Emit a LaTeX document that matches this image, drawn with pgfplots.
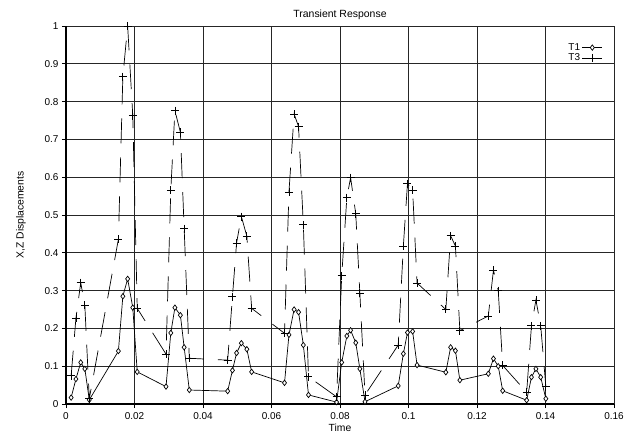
\documentclass[border=0pt]{standalone}
\usepackage{pgfplots}
\pgfplotsset{compat=1.18}
\usepackage{fontspec}
\setmainfont{Liberation Sans}
\pgfplotstableread{
t y
0.0015 0.017
0.0029 0.066
0.0043 0.110
0.0055 0.093
0.0068 0.011
0.0153 0.140
0.0166 0.285
0.0180 0.331
0.0195 0.255
0.0208 0.085
0.0292 0.046
0.0306 0.188
0.0318 0.255
0.0334 0.235
0.0345 0.150
0.0360 0.037
0.0472 0.034
0.0486 0.089
0.0498 0.135
0.0512 0.161
0.0528 0.145
0.0542 0.085
0.0638 0.056
0.0651 0.183
0.0666 0.250
0.0679 0.243
0.0693 0.156
0.0708 0.024
0.0790 0.005
0.0805 0.110
0.0820 0.180
0.0831 0.195
0.0846 0.162
0.0858 0.093
0.0873 0.006
0.0970 0.048
0.0985 0.133
0.0997 0.189
0.1012 0.192
0.1025 0.103
0.1109 0.084
0.1123 0.150
0.1137 0.141
0.1150 0.063
0.1233 0.080
0.1248 0.120
0.1262 0.100
0.1275 0.035
0.1345 0.010
0.1359 0.071
0.1372 0.093
0.1386 0.071
0.1401 0.014
}\Tone
\pgfplotstableread{
t y
0.0015 0.075
0.0029 0.227
0.0043 0.321
0.0055 0.261
0.0068 0.014
0.0153 0.436
0.0166 0.866
0.0180 1.0
0.0195 0.763
0.0208 0.253
0.0292 0.132
0.0306 0.566
0.0318 0.776
0.0334 0.719
0.0345 0.464
0.0360 0.121
0.0472 0.116
0.0486 0.284
0.0498 0.426
0.0512 0.496
0.0528 0.444
0.0542 0.253
0.0638 0.187
0.0651 0.561
0.0666 0.767
0.0679 0.734
0.0693 0.474
0.0708 0.072
0.0790 0.019
0.0805 0.339
0.0820 0.546
0.0831 0.599
0.0846 0.503
0.0858 0.293
0.0873 0.024
0.0970 0.156
0.0985 0.418
0.0997 0.583
0.1012 0.566
0.1025 0.320
0.1109 0.250
0.1123 0.445
0.1137 0.418
0.1150 0.194
0.1233 0.233
0.1248 0.354
0.1262 0.300
0.1275 0.102
0.1345 0.031
0.1359 0.207
0.1372 0.275
0.1386 0.207
0.1401 0.046
}\Tthree
\begin{document}
\begin{tikzpicture}
\path[use as bounding box] (-66bp,-32bp) rectangle (563bp,404bp);
\begin{axis}[
  at={(0,0)}, anchor=south west,
  scale only axis, width=548bp, height=378bp,
  xmin=0, xmax=0.16, ymin=0, ymax=1,
  xtick={0,0.02,0.04,0.06,0.08,0.1,0.12,0.14,0.16},
  xticklabels={0,0.02,0.04,0.06,0.08,0.1,0.12,0.14,0.16},
  ytick={0,0.1,0.2,0.3,0.4,0.5,0.6,0.7,0.8,0.9,1},
  yticklabels={0,0.1,0.2,0.3,0.4,0.5,0.6,0.7,0.8,0.9,1},
  scaled ticks=false,
  axis x line*=bottom, axis y line*=left,
  axis line style={line width=1.3bp, black},
  grid=major,
  major grid style={line width=0.8bp, black!85},
  tick align=outside, major tick length=4bp,
  tick style={line width=0.8bp, black},
  tick label style={font=\fontsize{10}{11}\selectfont},
  xticklabel style={yshift=-1bp},
  label style={font=\fontsize{10.4}{11}\selectfont},
  title style={font=\fontsize{10.5}{11}\selectfont, yshift=-3bp},
  title={Transient Response},
  xlabel={Time}, ylabel={X,Z Displacements},
  xlabel style={yshift=2bp},
  ylabel style={yshift=12bp},
  legend style={at={(0.985,0.965)}, anchor=north east, draw=none, fill=none,
    font=\fontsize{10}{11}\selectfont, row sep=-2bp},
  legend plot pos=right,
  legend cell align=right,
  legend image code/.code={
    \draw[mark repeat=2,mark phase=2,#1] plot coordinates {(0cm,0cm) (0.35cm,0cm) (0.7cm,0cm)};},
]
\addplot[black, line width=0.7bp, mark=diamond*, mark size=2.7bp,
  mark options={fill=white, solid, line width=0.7bp}] table[x=t,y=y] {\Tone};
\addlegendentry{T1}
\addplot[black, line width=0.7bp, dash pattern=on 25bp off 14bp, mark=+, mark size=4bp,
  mark options={solid, line width=0.8bp}] table[x=t,y=y] {\Tthree};
\addlegendentry{T3}
\end{axis}
\end{tikzpicture}
\end{document}
